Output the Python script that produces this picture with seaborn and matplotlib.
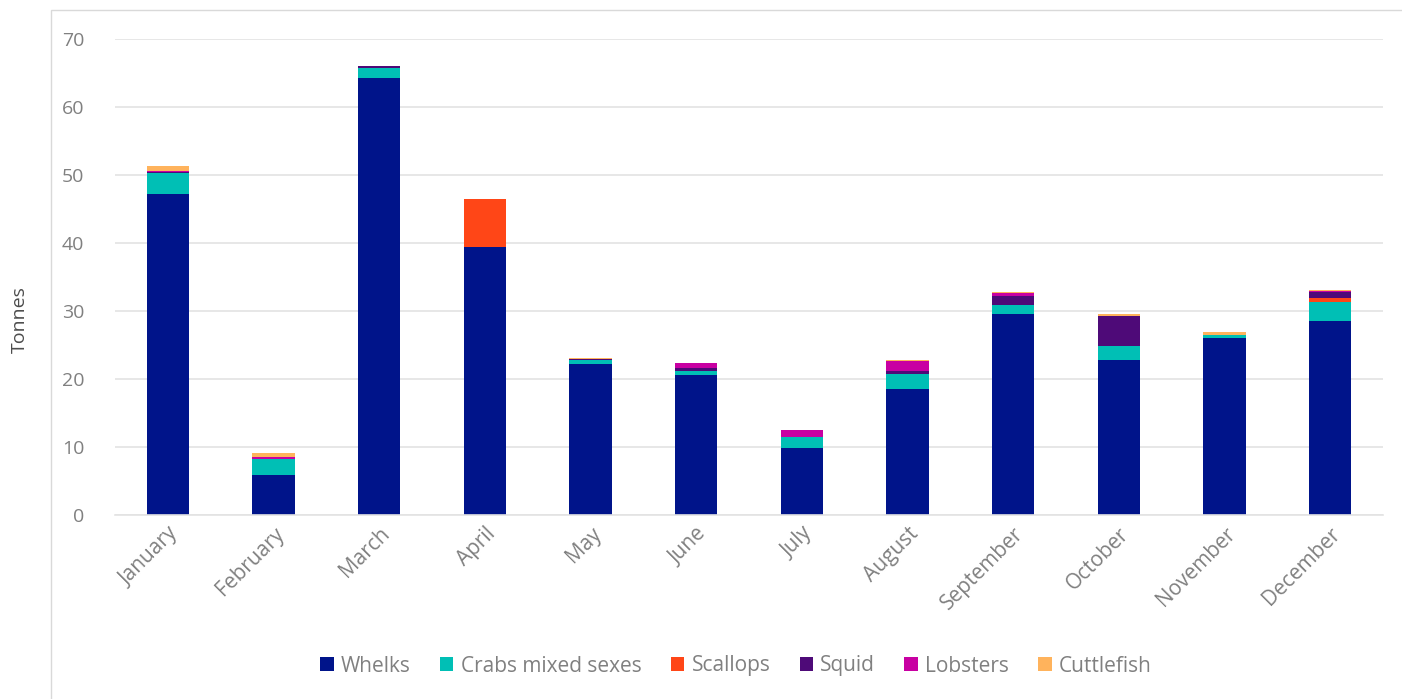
import numpy as np
import pandas as pd
import matplotlib
matplotlib.use("Agg")
import matplotlib.pyplot as plt
from matplotlib.patches import Patch, Rectangle
import seaborn as sns

months = ["January", "February", "March", "April", "May", "June",
          "July", "August", "September", "October", "November", "December"]

species = ["Whelks", "Crabs mixed sexes", "Scallops", "Squid", "Lobsters", "Cuttlefish"]

whelks     = [47.2, 5.9, 64.3, 39.4, 22.25, 20.6, 9.9, 18.6, 29.6, 22.75, 26.05, 28.6]
crabs      = [3.1, 2.35, 1.4, 0.0, 0.5, 0.6, 1.5, 2.2, 1.3, 2.1, 0.4, 2.7]
scallops   = [0.0, 0.0, 0.0, 7.1, 0.0, 0.0, 0.0, 0.0, 0.0, 0.0, 0.0, 0.55]
squid      = [0.1, 0.0, 0.3, 0.0, 0.2, 0.4, 0.0, 0.4, 1.35, 4.35, 0.05, 0.9]
lobsters   = [0.2, 0.25, 0.0, 0.0, 0.0, 0.7, 1.1, 1.5, 0.4, 0.05, 0.0, 0.15]
cuttlefish = [0.7, 0.6, 0.0, 0.0, 0.15, 0.0, 0.0, 0.1, 0.1, 0.35, 0.35, 0.15]

colors = ["#00148A", "#00BFB5", "#FF4617", "#4E0A78", "#C800A2", "#FFB35C"]

sns.set_theme(style="white")
plt.rcParams["font.family"] = ["Open Sans", "DejaVu Sans"]

layers = np.array([whelks, crabs, scallops, squid, lobsters, cuttlefish])
tops = np.cumsum(layers, axis=0)

df = pd.DataFrame({"month": months})
for name, top in zip(species, tops):
    df[name] = top

fig = plt.figure(figsize=(14.02, 6.99), dpi=100)
ax = fig.add_axes([115 / 1402, 1 - 515 / 699, (1383 - 115) / 1402, (515 - 39) / 699])

# Stacked bars: draw cumulative totals from the top layer down
for name, col in reversed(list(zip(species, colors))):
    sns.barplot(data=df, x="month", y=name, color=col, width=0.4,
                saturation=1, ax=ax, order=months, linewidth=0)

ax.set_ylim(0, 70)
ax.set_xlim(-0.5, 11.5)
ax.set_yticks(range(0, 71, 10))
ax.yaxis.grid(True, color="#E3E3E3", linewidth=1.2)
ax.set_axisbelow(True)
for s in ax.spines.values():
    s.set_visible(False)
ax.spines["bottom"].set_visible(True)
ax.spines["bottom"].set_color("#E3E3E3")
ax.spines["bottom"].set_linewidth(1.2)

ax.set_xlabel("")
ax.set_ylabel("Tonnes", fontsize=14, color="#4D4D4D")
ax.yaxis.set_label_coords((29 - 115) / 1268, (515 - 320) / 476)
ax.tick_params(axis="y", length=0, labelsize=14, labelcolor="#808080", pad=22)
ax.tick_params(axis="x", length=0, labelsize=15, labelcolor="#808080", pad=6)
plt.setp(ax.get_xticklabels(), rotation=45, ha="right", rotation_mode="anchor")

handles = [Patch(facecolor=c, edgecolor="none", label=s) for s, c in zip(species, colors)]
fig.legend(handles=handles, loc="center", bbox_to_anchor=(0.525, 1 - 666 / 699),
           ncol=6, frameon=False, fontsize=15, handlelength=0.65, handleheight=0.65,
           handletextpad=0.35, columnspacing=1.4, labelcolor="#808080")

# Light outer frame of the chart area
fig.patches.append(Rectangle((51 / 1402, -0.01), 1.02, 1 - 10 / 699 + 0.01,
                             transform=fig.transFigure, fill=False,
                             edgecolor="#D9D9D9", linewidth=1.0))

fig.savefig("out.png", dpi=100)
